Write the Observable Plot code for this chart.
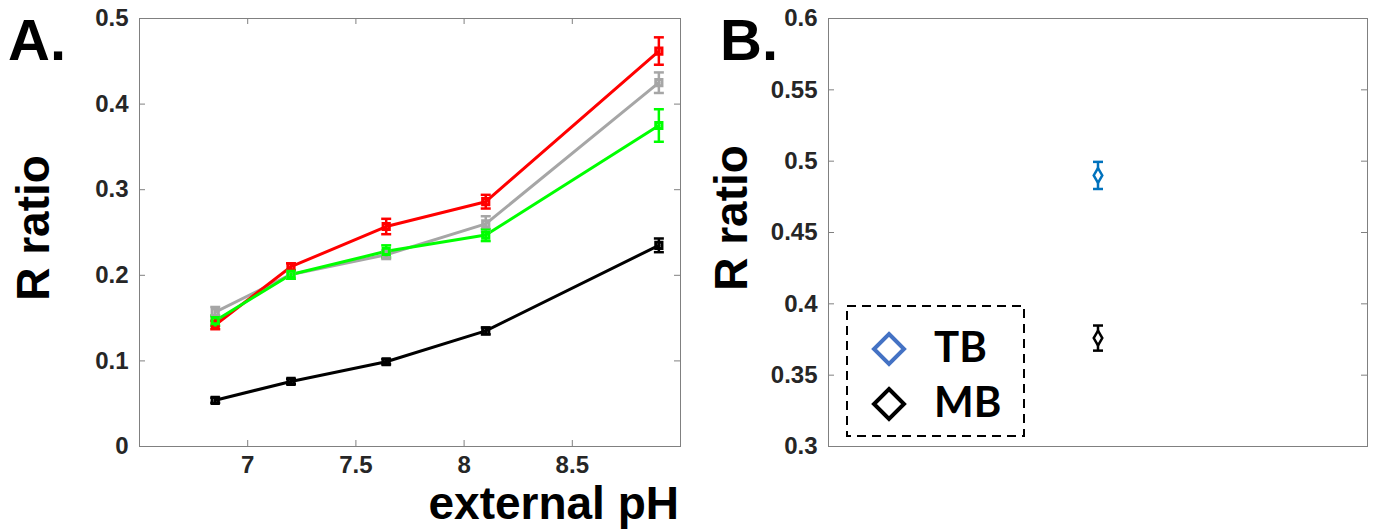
<!DOCTYPE html>
<html><head><meta charset="utf-8">
<script src="https://cdn.jsdelivr.net/npm/d3@7"></script>
<script src="https://cdn.jsdelivr.net/npm/@observablehq/plot@0.6"></script>
<style>
html,body{margin:0;padding:0;background:#fff;}
body{width:1374px;height:531px;overflow:hidden;position:relative;font-family:"Liberation Sans",Arial,sans-serif;}
.abs{position:absolute;top:0;}
#overlay{position:absolute;left:0;top:0;pointer-events:none;}
</style></head><body>
<div id="a" class="abs" style="left:0px"></div>
<div id="b" class="abs" style="left:700px"></div>
<svg id="overlay" width="1374" height="531"></svg>
<script>
// ---- Panel A data ----
const pH = [6.85, 7.2, 7.64, 8.1, 8.9];
const grayR  = [0.157, 0.201, 0.224, 0.260, 0.425];
const grayE  = [0.006, 0.004, 0.005, 0.009, 0.012];
const redR   = [0.142, 0.210, 0.257, 0.286, 0.462];
const redE   = [0.005, 0.004, 0.009, 0.008, 0.016];
const greenR = [0.147, 0.201, 0.228, 0.247, 0.375];
const greenE = [0.006, 0.005, 0.007, 0.007, 0.019];
const blackR = [0.054, 0.076, 0.099, 0.135, 0.235];
const blackE = [0.003, 0.003, 0.003, 0.004, 0.008];
const seriesNames  = ["gray", "red", "green", "black"];
const seriesColors = ["#a6a6a6", "#ff0000", "#00ff00", "#000000"];
const seriesValues = [grayR, redR, greenR, blackR];
const seriesErrors = [grayE, redE, greenE, blackE];
const xTicksA = [7, 7.5, 8, 8.5];
const yTicksA = [0, 0.1, 0.2, 0.3, 0.4, 0.5];

// ---- Panel B data ----
const groups  = ["TB", "MB"];
const groupColors = ["#0072bd", "#000000"];
const groupR  = [0.490, 0.376];
const groupE  = [0.0095, 0.0088];
const groupX  = [1, 1];
const yTicksB = [0.3, 0.35, 0.4, 0.45, 0.5, 0.55, 0.6];

const rowsA = seriesNames.flatMap((s, k) => pH.map((x, i) => ({s, color: seriesColors[k], x, y: seriesValues[k][i], e: seriesErrors[k][i]})));
const rowsB = groups.map((g, i) => ({g, color: groupColors[i], x: groupX[i], y: groupR[i], e: groupE[i]}));

const cap = {draw(ctx, size) { const w = Math.sqrt(size / Math.PI); ctx.moveTo(-w, 0); ctx.lineTo(w, 0); }};
const FRAME = "#808080";
const baseStyle = {fontFamily: "'Liberation Sans', Arial, sans-serif", fontSize: "24px", fontWeight: "bold", color: "#262626", background: "white", overflow: "visible"};

function inwardTicks(W, H, xt, yt, withX) {
  const m = [
    Plot.ruleY(yt, {y: d => d, insetRight: W - 6, stroke: FRAME}),
    Plot.ruleY(yt, {y: d => d, insetLeft: W - 6, stroke: FRAME})
  ];
  if (withX) {
    m.push(Plot.ruleX(xt, {x: d => d, insetTop: H - 6, stroke: FRAME}));
    m.push(Plot.ruleX(xt, {x: d => d, insetBottom: H - 6, stroke: FRAME}));
  }
  return m;
}

const errMarks = (rows, sw, capR) => [
  Plot.ruleX(rows, {x: "x", y1: d => d.y - d.e, y2: d => d.y + d.e, stroke: "color", strokeWidth: sw}),
  Plot.dot(rows, {x: "x", y: d => d.y - d.e, symbol: cap, r: capR, stroke: "color", strokeWidth: sw, fill: "none"}),
  Plot.dot(rows, {x: "x", y: d => d.y + d.e, symbol: cap, r: capR, stroke: "color", strokeWidth: sw, fill: "none"})
];

const WA = 700, HA = 531, mlA = 139, mrA = 20, mt = 18, mb = 85;
const plotA = Plot.plot({
  width: WA, height: HA, marginLeft: mlA, marginRight: mrA, marginTop: mt, marginBottom: mb,
  x: {domain: [6.5, 9]},
  y: {domain: [0, 0.5]},
  color: {type: "identity"},
  style: baseStyle,
  marks: [
    Plot.frame({stroke: FRAME}),
    ...inwardTicks(WA - mlA - mrA, HA - mt - mb, xTicksA, yTicksA, true),
    Plot.axisX(xTicksA, {tickSize: 0, tickPadding: 9, tickFormat: d => String(d), label: null, fill: "#262626"}),
    Plot.axisY(yTicksA, {tickSize: 0, tickPadding: 11, tickFormat: d => String(d), label: null, fill: "#262626"}),
    Plot.line(rowsA, {x: "x", y: "y", z: "s", stroke: "color", strokeWidth: 3}),
    ...errMarks(rowsA, 2.5, 5),
    Plot.dot(rowsA, {x: "x", y: "y", symbol: "square", r: 3.5, stroke: "color", strokeWidth: 3, fill: "none"})
  ]
});
document.getElementById("a").appendChild(plotA);

const WB = 674, mlB = 128, mrB = 7;
const plotB = Plot.plot({
  width: WB, height: HA, marginLeft: mlB, marginRight: mrB, marginTop: mt, marginBottom: mb,
  x: {domain: [0, 2], axis: null},
  y: {domain: [0.3, 0.6]},
  color: {type: "identity"},
  style: baseStyle,
  marks: [
    Plot.frame({stroke: FRAME}),
    ...inwardTicks(WB - mlB - mrB, HA - mt - mb, [], yTicksB, false),
    Plot.axisY(yTicksB, {tickSize: 0, tickPadding: 11, tickFormat: d => String(d), label: null, fill: "#262626"}),
    ...errMarks(rowsB, 2.5, 5),
    Plot.dot(rowsB, {x: "x", y: "y", symbol: "diamond", r: 4.5, stroke: "color", strokeWidth: 2.5, fill: "white"})
  ]
});
document.getElementById("b").appendChild(plotB);

// ---- Labels and legend (text kept as real text) ----
const ov = d3.select("#overlay");
const bold = "'Liberation Sans', Arial, sans-serif";
ov.append("text").attr("x", 8).attr("y", 60).attr("font-family", bold).attr("font-weight", "bold").attr("font-size", 58).text("A.");
ov.append("text").attr("x", 720).attr("y", 60).attr("font-family", bold).attr("font-weight", "bold").attr("font-size", 58).text("B.");
ov.append("text").attr("transform", "translate(49,228) rotate(-90)").attr("text-anchor", "middle").attr("font-family", bold).attr("font-weight", "bold").attr("font-size", 46).text("R ratio");
ov.append("text").attr("transform", "translate(747,218) rotate(-90)").attr("text-anchor", "middle").attr("font-family", bold).attr("font-weight", "bold").attr("font-size", 46).text("R ratio");
ov.append("text").attr("x", 679).attr("y", 519).attr("text-anchor", "end").attr("font-family", bold).attr("font-weight", "bold").attr("font-size", 46).text("external pH");

// legend
ov.append("rect").attr("x", 847).attr("y", 306).attr("width", 177).attr("height", 130).attr("fill", "none").attr("stroke", "#000").attr("stroke-width", 2).attr("stroke-dasharray", "9,6");
const legendColors = ["#4472c4", "#000000"];
groups.forEach((g, i) => {
  const cy = 349 + i * 55;
  ov.append("path").attr("d", `M889,${cy - 15}L904,${cy}L889,${cy + 15}L874,${cy}Z`).attr("fill", "none").attr("stroke", legendColors[i]).attr("stroke-width", 4);
  ov.append("text").attr("x", 934).attr("y", cy + 13).attr("font-family", "Lato, 'Open Sans', sans-serif").attr("font-weight", "bold").attr("font-size", 42).attr("fill", "#000").text(g);
});
</script>
</body></html>
